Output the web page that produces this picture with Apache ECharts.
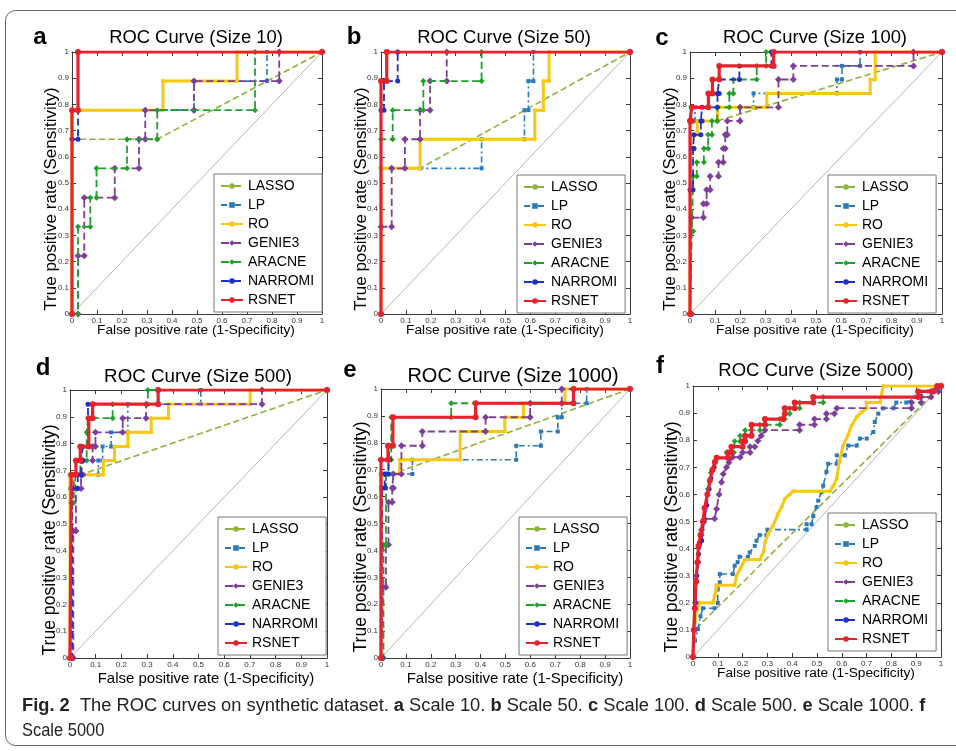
<!DOCTYPE html>
<html>
<head>
<meta charset="utf-8">
<script src="https://cdn.jsdelivr.net/npm/echarts@6/dist/echarts.min.js"></script>
<style>html,body{margin:0;padding:0;background:#fff}#c{width:956px;height:751px}</style>
</head>
<body>
<div id="c"></div>
<script>
// ---------------- DATA ----------------
const METHODS = ['LASSO','LP','RO','GENIE3','ARACNE','NARROMI','RSNET'];
const SIZES = [10, 50, 100, 500, 1000, 5000];
const PANEL_LETTERS = ['a','b','c','d','e','f'];

// Size 10
const S10_LASSO   = [[0,0],[0,0.667],[0.341,0.667],[1,1]];
const S10_LP      = [[0,0],[0,0.778],[0.488,0.778],[0.488,0.889],[0.78,0.889],[0.78,1],[1,1]];
const S10_RO      = [[0,0],[0,0.778],[0.364,0.778],[0.364,0.889],[0.66,0.889],[0.66,1],[1,1]];
const S10_GENIE3  = [[0,0],[0.024,0],[0.024,0.222],[0.049,0.222],[0.049,0.444],[0.171,0.444],[0.171,0.556],[0.268,0.556],[0.268,0.667],[0.293,0.667],[0.293,0.778],[0.488,0.778],[0.488,0.889],[0.829,0.889],[0.829,1],[1,1]];
const S10_ARACNE  = [[0,0],[0.024,0],[0.024,0.333],[0.073,0.333],[0.073,0.444],[0.098,0.444],[0.098,0.556],[0.22,0.556],[0.22,0.667],[0.341,0.667],[0.341,0.778],[0.732,0.778],[0.732,1],[1,1]];
const S10_NARROMI = [[0,0],[0,0.667],[0.024,0.667],[0.024,1],[1,1]];
const S10_RSNET   = [[0,0],[0,0.778],[0.024,0.778],[0.024,1],[1,1]];

// Size 50
const S50_LASSO   = [[0,0],[0,0.556],[0.157,0.556],[1,1]];
const S50_LP      = [[0,0],[0,0.556],[0.404,0.556],[0.404,0.667],[0.576,0.667],[0.576,0.778],[0.592,0.778],[0.592,0.889],[0.612,0.889],[0.612,1],[1,1]];
const S50_RO      = [[0,0],[0,0.556],[0.157,0.556],[0.157,0.667],[0.618,0.667],[0.618,0.778],[0.652,0.778],[0.652,0.889],[0.675,0.889],[0.675,1],[1,1]];
const S50_GENIE3  = [[0,0],[0,0.333],[0.043,0.333],[0.043,0.556],[0.096,0.556],[0.096,0.667],[0.157,0.667],[0.157,0.778],[0.197,0.778],[0.197,0.889],[0.264,0.889],[0.264,1],[1,1]];
const S50_ARACNE  = [[0,0],[0,0.667],[0.047,0.667],[0.047,0.778],[0.17,0.778],[0.17,0.889],[0.404,0.889],[0.404,1],[1,1]];
const S50_NARROMI = [[0,0],[0,0.778],[0.012,0.778],[0.012,0.889],[0.067,0.889],[0.067,1],[1,1]];
const S50_RSNET   = [[0,0],[0,0.889],[0.023,0.889],[0.023,1],[1,1]];

// Size 100
const S100_LASSO   = [[0,0],[0,0.737],[0.109,0.737],[1,1]];
const S100_LP      = [[0,0],[0,0.737],[0.02,0.737],[0.02,0.789],[0.252,0.789],[0.252,0.842],[0.583,0.842],[0.583,0.895],[0.603,0.895],[0.603,0.947],[0.675,0.947],[0.675,1],[1,1]];
const S100_RO      = [[0,0],[0.004,0],[0.004,0.684],[0.029,0.684],[0.029,0.737],[0.109,0.737],[0.109,0.789],[0.305,0.789],[0.305,0.842],[0.715,0.842],[0.715,0.895],[0.735,0.895],[0.735,1],[1,1]];
const S100_GENIE3  = [[0,0],[0.007,0],[0.007,0.368],[0.053,0.368],[0.053,0.421],[0.066,0.421],[0.066,0.474],[0.08,0.474],[0.08,0.526],[0.113,0.526],[0.113,0.579],[0.132,0.579],[0.132,0.632],[0.14,0.632],[0.14,0.684],[0.148,0.684],[0.148,0.737],[0.199,0.737],[0.199,0.789],[0.351,0.789],[0.351,0.895],[0.41,0.895],[0.41,0.947],[0.887,0.947],[0.887,1],[1,1]];
const S100_ARACNE  = [[0,0],[0.007,0],[0.007,0.316],[0.013,0.316],[0.013,0.526],[0.027,0.526],[0.027,0.579],[0.055,0.579],[0.055,0.632],[0.072,0.632],[0.072,0.684],[0.087,0.684],[0.087,0.737],[0.108,0.737],[0.108,0.789],[0.156,0.789],[0.156,0.842],[0.172,0.842],[0.172,0.895],[0.265,0.895],[0.265,0.947],[0.302,0.947],[0.302,1],[1,1]];
const S100_NARROMI = [[0,0],[0,0.474],[0.012,0.474],[0.012,0.632],[0.016,0.632],[0.016,0.684],[0.043,0.684],[0.043,0.737],[0.048,0.737],[0.048,0.789],[0.109,0.789],[0.109,0.842],[0.116,0.842],[0.116,0.895],[0.196,0.895],[0.196,0.947],[0.323,0.947],[0.323,1],[1,1]];
const S100_RSNET   = [[0,0],[0,0.737],[0.007,0.737],[0.007,0.789],[0.073,0.789],[0.073,0.842],[0.089,0.842],[0.089,0.895],[0.116,0.895],[0.116,0.947],[0.332,0.947],[0.332,1],[1,1]];

// Size 500
const S500_LASSO   = [[0,0],[0,0.684],[0.043,0.684],[1,1]];
const S500_LP      = [[0,0],[0,0.632],[0.02,0.632],[0.02,0.684],[0.11,0.684],[0.11,0.737],[0.127,0.737],[0.127,0.789],[0.16,0.789],[0.16,0.842],[0.225,0.842],[0.225,0.947],[0.509,0.947],[0.509,1],[1,1]];
const S500_RO      = [[0,0],[0,0.684],[0.13,0.684],[0.13,0.737],[0.173,0.737],[0.173,0.789],[0.225,0.789],[0.225,0.842],[0.316,0.842],[0.316,0.895],[0.383,0.895],[0.383,0.947],[0.701,0.947],[0.701,1],[1,1]];
const S500_GENIE3  = [[0,0],[0.013,0],[0.013,0.474],[0.023,0.474],[0.023,0.632],[0.043,0.632],[0.043,0.684],[0.05,0.684],[0.05,0.737],[0.088,0.737],[0.088,0.789],[0.099,0.789],[0.099,0.842],[0.205,0.842],[0.205,0.895],[0.296,0.895],[0.296,0.947],[0.747,0.947],[0.747,1],[1,1]];
const S500_ARACNE  = [[0,0],[0.005,0],[0.005,0.579],[0.015,0.579],[0.015,0.684],[0.04,0.684],[0.04,0.737],[0.065,0.737],[0.065,0.842],[0.07,0.842],[0.07,0.895],[0.166,0.895],[0.166,0.947],[0.303,0.947],[0.303,1],[1,1]];
const S500_NARROMI = [[0,0],[0.008,0],[0.008,0.632],[0.03,0.632],[0.03,0.684],[0.043,0.684],[0.043,0.737],[0.05,0.737],[0.05,0.789],[0.07,0.789],[0.07,0.947],[0.343,0.947],[0.343,1],[1,1]];
const S500_RSNET   = [[0,0],[0.005,0],[0.005,0.684],[0.023,0.684],[0.023,0.737],[0.04,0.737],[0.04,0.789],[0.073,0.789],[0.073,0.895],[0.088,0.895],[0.088,0.947],[0.343,0.947],[0.343,1],[1,1]];

// Size 1000
const S1000_LASSO   = [[0,0],[0,0.684],[0.045,0.684],[1,1]];
const S1000_LP      = [[0,0],[0,0.632],[0.02,0.632],[0.02,0.684],[0.126,0.684],[0.126,0.737],[0.543,0.737],[0.543,0.789],[0.642,0.789],[0.642,0.842],[0.71,0.842],[0.71,0.895],[0.726,0.895],[0.726,0.947],[0.826,0.947],[0.826,1],[1,1]];
const S1000_RO      = [[0,0],[0,0.684],[0.075,0.684],[0.075,0.737],[0.318,0.737],[0.318,0.842],[0.497,0.842],[0.497,0.895],[0.572,0.895],[0.572,0.947],[0.739,0.947],[0.739,1],[1,1]];
const S1000_GENIE3  = [[0,0],[0.008,0],[0.008,0.263],[0.02,0.263],[0.02,0.421],[0.03,0.421],[0.03,0.579],[0.045,0.579],[0.045,0.632],[0.05,0.632],[0.05,0.684],[0.082,0.684],[0.082,0.789],[0.166,0.789],[0.166,0.842],[0.42,0.842],[0.42,0.895],[0.599,0.895],[0.599,0.947],[0.726,0.947],[0.726,1],[1,1]];
const S1000_ARACNE  = [[0,0],[0.01,0],[0.01,0.421],[0.02,0.421],[0.02,0.684],[0.03,0.684],[0.03,0.737],[0.041,0.737],[0.041,0.895],[0.282,0.895],[0.282,0.947],[0.773,0.947],[0.773,1],[1,1]];
const S1000_NARROMI = [[0,0],[0.005,0],[0.005,0.632],[0.015,0.632],[0.015,0.684],[0.03,0.684],[0.03,0.737],[0.035,0.737],[0.035,0.789],[0.048,0.789],[0.048,0.895],[0.38,0.895],[0.38,0.947],[0.773,0.947],[0.773,1],[1,1]];
const S1000_RSNET   = [[0,0],[0,0.737],[0.028,0.737],[0.028,0.789],[0.048,0.789],[0.048,0.895],[0.38,0.895],[0.38,0.947],[0.773,0.947],[0.773,1],[1,1]];

// Size 5000
const S5000_LASSO   = [[0,0],[0.007,0.1],[1,1]];
const S5000_LP      = [[0,0],[0.008,0.06],[0.02,0.103],[0.03,0.15],[0.04,0.18],[0.087,0.18],[0.1,0.2],[0.1,0.25],[0.108,0.276],[0.108,0.306],[0.161,0.306],[0.168,0.337],[0.18,0.35],[0.188,0.37],[0.222,0.37],[0.229,0.386],[0.249,0.41],[0.256,0.429],[0.269,0.45],[0.296,0.45],[0.3,0.47],[0.458,0.47],[0.458,0.49],[0.478,0.49],[0.485,0.52],[0.498,0.553],[0.505,0.577],[0.518,0.608],[0.525,0.632],[0.538,0.683],[0.545,0.713],[0.579,0.713],[0.58,0.744],[0.612,0.744],[0.626,0.78],[0.66,0.78],[0.673,0.806],[0.7,0.806],[0.727,0.83],[0.733,0.867],[0.747,0.898],[0.767,0.918],[0.808,0.918],[0.82,0.939],[0.86,0.939],[0.9,0.96],[0.95,0.98],[0.99,1],[1,1]];
const S5000_RO      = [[0,0],[0.004,0.08],[0.007,0.128],[0.016,0.177],[0.027,0.2],[0.081,0.2],[0.087,0.225],[0.094,0.25],[0.094,0.265],[0.168,0.265],[0.175,0.3],[0.19,0.325],[0.2,0.343],[0.209,0.36],[0.27,0.36],[0.285,0.39],[0.29,0.423],[0.303,0.454],[0.323,0.485],[0.343,0.528],[0.357,0.553],[0.37,0.583],[0.39,0.6],[0.404,0.612],[0.552,0.612],[0.565,0.63],[0.58,0.66],[0.59,0.72],[0.605,0.78],[0.625,0.818],[0.64,0.855],[0.66,0.886],[0.68,0.904],[0.7,0.918],[0.7,0.939],[0.754,0.939],[0.767,1],[1,1]];
const S5000_GENIE3  = [[0,0],[0.005,0.1],[0.01,0.2],[0.013,0.276],[0.02,0.35],[0.028,0.423],[0.035,0.47],[0.047,0.51],[0.087,0.51],[0.095,0.546],[0.105,0.6],[0.115,0.645],[0.122,0.675],[0.135,0.7],[0.145,0.718],[0.16,0.737],[0.19,0.737],[0.2,0.755],[0.23,0.755],[0.23,0.776],[0.249,0.776],[0.262,0.798],[0.275,0.816],[0.29,0.837],[0.43,0.837],[0.43,0.857],[0.49,0.857],[0.49,0.878],[0.538,0.878],[0.538,0.898],[0.57,0.898],[0.58,0.918],[0.881,0.918],[0.881,0.939],[0.92,0.939],[0.92,0.959],[0.96,0.959],[0.96,0.98],[0.99,0.98],[1,1]];
const S5000_ARACNE  = [[0,0],[0.004,0.1],[0.009,0.2],[0.015,0.3],[0.022,0.38],[0.035,0.45],[0.047,0.55],[0.06,0.62],[0.072,0.68],[0.09,0.72],[0.1,0.735],[0.135,0.735],[0.135,0.755],[0.165,0.755],[0.168,0.796],[0.19,0.796],[0.19,0.816],[0.21,0.816],[0.21,0.837],[0.27,0.837],[0.27,0.857],[0.35,0.857],[0.35,0.878],[0.37,0.878],[0.37,0.898],[0.39,0.898],[0.39,0.918],[0.43,0.918],[0.43,0.939],[0.525,0.939],[0.525,0.959],[0.908,0.959],[0.908,0.98],[0.97,0.98],[0.985,1],[1,1]];
const S5000_NARROMI = [[0,0],[0.004,0.1],[0.009,0.2],[0.015,0.3],[0.022,0.38],[0.035,0.43],[0.045,0.5],[0.055,0.56],[0.065,0.62],[0.072,0.66],[0.085,0.7],[0.095,0.735],[0.141,0.735],[0.155,0.776],[0.2,0.776],[0.21,0.816],[0.236,0.816],[0.236,0.857],[0.29,0.857],[0.29,0.878],[0.363,0.878],[0.37,0.918],[0.41,0.918],[0.41,0.939],[0.485,0.939],[0.485,0.959],[0.908,0.959],[0.908,0.98],[0.969,0.98],[0.985,1],[1,1]];
const S5000_RSNET   = [[0,0],[0.003,0.1],[0.007,0.18],[0.012,0.28],[0.018,0.35],[0.022,0.41],[0.03,0.45],[0.04,0.5],[0.047,0.55],[0.058,0.6],[0.068,0.65],[0.078,0.69],[0.088,0.72],[0.095,0.735],[0.141,0.735],[0.141,0.755],[0.155,0.755],[0.155,0.776],[0.2,0.776],[0.2,0.796],[0.21,0.796],[0.21,0.816],[0.236,0.816],[0.236,0.857],[0.29,0.857],[0.29,0.878],[0.363,0.878],[0.37,0.898],[0.37,0.918],[0.41,0.918],[0.41,0.939],[0.485,0.939],[0.485,0.959],[0.908,0.959],[0.908,0.98],[0.969,0.98],[0.985,1],[1,1]];

const DIAGONAL = [[0,0],[1,1]];

const PANEL_DATA = [
  [S10_LASSO, S10_LP, S10_RO, S10_GENIE3, S10_ARACNE, S10_NARROMI, S10_RSNET],
  [S50_LASSO, S50_LP, S50_RO, S50_GENIE3, S50_ARACNE, S50_NARROMI, S50_RSNET],
  [S100_LASSO, S100_LP, S100_RO, S100_GENIE3, S100_ARACNE, S100_NARROMI, S100_RSNET],
  [S500_LASSO, S500_LP, S500_RO, S500_GENIE3, S500_ARACNE, S500_NARROMI, S500_RSNET],
  [S1000_LASSO, S1000_LP, S1000_RO, S1000_GENIE3, S1000_ARACNE, S1000_NARROMI, S1000_RSNET],
  [S5000_LASSO, S5000_LP, S5000_RO, S5000_GENIE3, S5000_ARACNE, S5000_NARROMI, S5000_RSNET]
];

const X_NAME = 'False positive rate (1-Specificity)';
const Y_NAME = 'True positive rate (Sensitivity)';
const CAPTION_PARTS = [
  ['Fig. 2', true], ['  The ROC curves on synthetic dataset. ', false],
  ['a', true], [' Scale 10. ', false], ['b', true], [' Scale 50. ', false],
  ['c', true], [' Scale 100. ', false], ['d', true], [' Scale 500. ', false],
  ['e', true], [' Scale 1000. ', false], ['f', true]
];
const CAPTION_LINE2 = 'Scale 5000';

// ---------------- STYLE / LAYOUT ----------------
const FONT = '"Liberation Sans", Arial, Helvetica, sans-serif';
const STYLES = {
  LASSO:   {color:'#8db33a', type:'dashed', width:1.6, symbol:'circle',  size:5},
  LP:      {color:'#2a7ab9', type:[6,3,2,3], width:1.6, symbol:'rect',  size:4},
  RO:      {color:'#f8c711', type:'solid',  width:3,   symbol:'circle',  size:4},
  GENIE3:  {color:'#7e3e99', type:'dashed', width:1.8, symbol:'diamond', size:7},
  ARACNE:  {color:'#22a02c', type:'dashed', width:1.8, symbol:'diamond', size:6},
  NARROMI: {color:'#1e2fc8', type:'dashed', width:1.8, symbol:'circle',  size:5},
  RSNET:   {color:'#e8222b', type:'solid',  width:3.2, symbol:'circle',  size:6}
};
const LAYOUT = [
  {grid:{left:72, top:52, width:250, height:262}, title:[196,38,18.4], letter:[40,37], ylab:[51,199,17], xlab:[196,330,13.7], legend:[214,174]},
  {grid:{left:381, top:52, width:249, height:262}, title:[504,38,18.4], letter:[354,37], ylab:[361,199,17], xlab:[505,330,13.7], legend:[517,175]},
  {grid:{left:690, top:52, width:252, height:262}, title:[815,38,18.4], letter:[662,38], ylab:[670,199,17], xlab:[815,330,13.7], legend:[828,175]},
  {grid:{left:70, top:390, width:257, height:268}, title:[198,377,18.8], letter:[43,368], ylab:[50,540,17.6], xlab:[206,679,15], legend:[218,517]},
  {grid:{left:381, top:389, width:249, height:269}, title:[513,376,20], letter:[350,370], ylab:[361,537,17.6], xlab:[515,679,15], legend:[519,517]},
  {grid:{left:693, top:386, width:248, height:271}, title:[816,371,18.5], letter:[660,366], ylab:[672,537,17.6], xlab:[816,673,13.7], legend:[828,513]}
];

const grids = [], xAxes = [], yAxes = [], series = [], legends = [], graphics = [];
const axisCol = '#3a3a3a';

LAYOUT.forEach((L, i) => {
  grids.push(Object.assign({containLabel:false}, L.grid));
  const common = {gridIndex:i, type:'value', min:0, max:1, interval:0.1,
    axisLine:{show:true, onZero:false, lineStyle:{color:axisCol, width:1}},
    axisTick:{show:true, inside:true, length:4, lineStyle:{color:axisCol}},
    splitLine:{show:false}};
  xAxes.push(Object.assign({}, common, {position:'bottom',
    axisLabel:{fontSize:8, color:'#333', margin:3, fontFamily:FONT}}));
  xAxes.push(Object.assign({}, common, {position:'top', axisLabel:{show:false}}));
  yAxes.push(Object.assign({}, common, {position:'left',
    axisLabel:{fontSize:8, color:'#333', margin:3, fontFamily:FONT}}));
  yAxes.push(Object.assign({}, common, {position:'right', axisLabel:{show:false}}));

  // diagonal reference
  series.push({type:'line', xAxisIndex:2*i, yAxisIndex:2*i, data:DIAGONAL, silent:true,
    symbol:'none', lineStyle:{color:'#b5b5b5', width:1}, z:1, animation:false});

  METHODS.forEach((m, k) => {
    const s = STYLES[m];
    series.push({
      type:'line', name:m, xAxisIndex:2*i, yAxisIndex:2*i,
      data:PANEL_DATA[i][k], symbol:s.symbol, symbolSize:s.size,
      showSymbol:true, showAllSymbol:true, animation:false,
      lineStyle:{color:s.color, width:s.width, type:s.type},
      itemStyle:{color:s.color}, z:2+k
    });
  });

  legends.push({
    orient:'vertical', left:L.legend[0], top:L.legend[1], data:METHODS,
    itemWidth:22, itemHeight:7, itemGap:5, padding:[5,8,5,6],
    backgroundColor:'#fff', borderColor:'#777', borderWidth:1, selectedMode:false,
    textStyle:{fontSize:14, lineHeight:14, color:'#000', fontFamily:FONT}
  });

  graphics.push({type:'text', x:L.title[0], y:L.title[1], silent:true,
    style:{text:'ROC Curve (Size ' + SIZES[i] + ')', fontSize:L.title[2], fontFamily:FONT, fill:'#000',
      textAlign:'center', textVerticalAlign:'middle'}});
  graphics.push({type:'text', x:L.letter[0], y:L.letter[1], silent:true,
    style:{text:PANEL_LETTERS[i], fontSize:24, fontWeight:'bold', fontFamily:FONT, fill:'#000',
      textAlign:'center', textVerticalAlign:'middle'}});
  graphics.push({type:'text', x:L.ylab[0], y:L.ylab[1], rotation:Math.PI/2, silent:true,
    style:{text:Y_NAME, fontSize:L.ylab[2], fontFamily:FONT, fill:'#000',
      textAlign:'center', textVerticalAlign:'middle'}});
  graphics.push({type:'text', x:L.xlab[0], y:L.xlab[1], silent:true,
    style:{text:X_NAME, fontSize:L.xlab[2], fontFamily:FONT, fill:'#000',
      textAlign:'center', textVerticalAlign:'middle'}});
});

// caption
const CAP_SIZE = 18.3;
const rich = {b:{fontWeight:'bold', fontSize:CAP_SIZE, fontFamily:FONT, fill:'#222'}, r:{fontSize:CAP_SIZE, fontFamily:FONT, fill:'#222'}};
const capText = CAPTION_PARTS.map(p => '{' + (p[1] ? 'b' : 'r') + '|' + p[0] + '}').join('');
graphics.push({type:'text', x:22, y:706, silent:true,
  style:{text:capText, rich:rich, fontSize:CAP_SIZE, fontFamily:FONT, fill:'#222', textAlign:'left', textVerticalAlign:'middle'}});
graphics.push({type:'text', x:22, y:731, silent:true, scaleX:0.9,
  style:{text:CAPTION_LINE2, fontSize:CAP_SIZE, fontFamily:FONT, fill:'#222', textAlign:'left', textVerticalAlign:'middle'}});
// figure frame
graphics.push({type:'rect', silent:true, z:-10,
  shape:{x:5.5, y:10.5, width:1000, height:735, r:10},
  style:{fill:null, stroke:'#666', lineWidth:1}});

const chart = echarts.init(document.getElementById('c'), null, {renderer:'canvas'});
chart.setOption({
  backgroundColor:'#fff',
  animation:false,
  grid:grids, xAxis:xAxes, yAxis:yAxes, series:series, legend:legends, graphic:graphics
});
</script>
</body>
</html>
